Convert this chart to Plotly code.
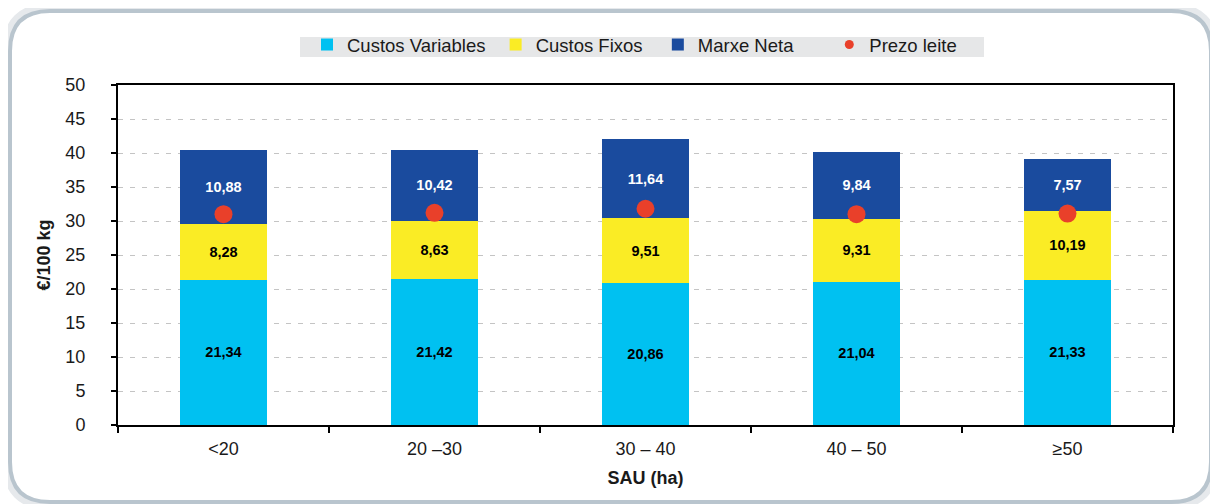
import plotly.graph_objects as go

categories = ["<20", "20 –30", "30 – 40", "40 – 50", "≥50"]
custos_variables = [21.34, 21.42, 20.86, 21.04, 21.33]
custos_fixos = [8.28, 8.63, 9.51, 9.31, 10.19]
marxe_neta = [10.88, 10.42, 11.64, 9.84, 7.57]
prezo_leite = [31.0, 31.2, 31.8, 31.0, 31.1]
y_ticks = [0, 5, 10, 15, 20, 25, 30, 35, 40, 45, 50]

# page body has an 8px margin, so the figure starts at (8, 8)
OFF = 8
W, H = 1218 - OFF, 504 - OFF
PL, PR, PT, PB = 118, 1173, 85, 425          # plot area in page pixels
ML, MR, MT, MB = PL - OFF, W - (PR - OFF), PT - OFF, H - (PB - OFF)
PW, PH = PR - PL, PB - PT

def px(x):
    return (x - PL) / PW

def py(y):
    return (PB - y) / PH

FONT = "Liberation Sans, Arial, Helvetica, sans-serif"
NB = "\u00a0"
fig = go.Figure()

def add_bar(vals, name, color, tcolor):
    fig.add_trace(go.Bar(
        x=categories, y=vals, name=name, marker=dict(color=color, line=dict(width=0)),
        texttemplate="<b>%{y:.2f}</b>", textposition="inside", insidetextanchor="middle",
        textfont=dict(size=14.5, color=tcolor, family=FONT), textangle=0,
        hoverinfo="skip",
    ))

add_bar(custos_variables, "Custos Variables" + NB, "#00c1f1", "#000000")
add_bar(custos_fixos, "Custos Fixos" + NB * 2, "#faec25", "#000000")
add_bar(marxe_neta, "Marxe Neta" + NB * 6, "#1a4b9e", "#ffffff")

fig.add_trace(go.Scatter(
    x=categories, y=prezo_leite, mode="markers", name="Prezo leite",
    marker=dict(color="#e9402a", size=18), showlegend=False, hoverinfo="skip",
))
fig.add_trace(go.Scatter(
    x=[None], y=[None], mode="markers", name="Prezo leite",
    marker=dict(color="#e9402a", size=9),
))

def rounded_path(x0, y0, x1, y1, r):
    rx, ry = r / PW, r / PH
    X0, X1 = px(x0), px(x1)
    Y0, Y1 = py(y0), py(y1)
    return (f"M {X0+rx},{Y0} L {X1-rx},{Y0} Q {X1},{Y0} {X1},{Y0-ry} "
            f"L {X1},{Y1+ry} Q {X1},{Y1} {X1-rx},{Y1} "
            f"L {X0+rx},{Y1} Q {X0},{Y1} {X0},{Y1+ry} "
            f"L {X0},{Y0-ry} Q {X0},{Y0} {X0+rx},{Y0} Z")

shapes = [
    dict(type="path", xref="paper", yref="paper", path=rounded_path(7, 8, 1214, 505, 44),
         line=dict(color="#e6e9ec", width=10), layer="below"),
    dict(type="path", xref="paper", yref="paper", path=rounded_path(10, 11, 1211, 502, 40),
         line=dict(color="#b9c5ce", width=4), fillcolor="white", layer="below"),
    dict(type="rect", xref="paper", yref="paper", x0=px(300), x1=px(984), y0=py(57), y1=py(37),
         fillcolor="#e6e7e8", line=dict(width=0), layer="below"),
]

fig.update_layout(
    width=W, height=H,
    margin=dict(l=ML, r=MR, t=MT, b=MB),
    paper_bgcolor="white", plot_bgcolor="rgba(0,0,0,0)",
    barmode="stack", bargap=0.59,
    separators=",.",
    font=dict(family=FONT, size=18, color="#1a1a1a"),
    shapes=shapes,
    showlegend=True,
    legend=dict(orientation="h", x=px(307), xanchor="left", y=py(26), yanchor="top",
                bgcolor="rgba(0,0,0,0)", font=dict(size=18.5, color="#1a1a1a"),
                traceorder="normal"),
    xaxis=dict(
        showline=True, linecolor="#000", linewidth=2, mirror=True,
        ticks="outside", ticklen=6, tickcolor="#000", tickwidth=1.5, tickson="boundaries",
        showgrid=False, tickfont=dict(size=18), ticklabelstandoff=6,
        title=dict(text="<b>SAU (ha)</b>", font=dict(size=18), standoff=14),
    ),
    yaxis=dict(
        range=[0, 50], tickvals=y_ticks,
        showline=True, linecolor="#000", linewidth=2, mirror=True,
        ticks="outside", ticklen=5, tickcolor="#000", tickwidth=1.5,
        showgrid=True, gridcolor="#c4c4c4", gridwidth=1.2, griddash="5px,7px",
        zeroline=False, tickfont=dict(size=18), ticklabelstandoff=22,
        title=dict(text="<b>€/100 kg</b>", font=dict(size=18), standoff=10),
    ),
)

fig.write_html("out.html")
